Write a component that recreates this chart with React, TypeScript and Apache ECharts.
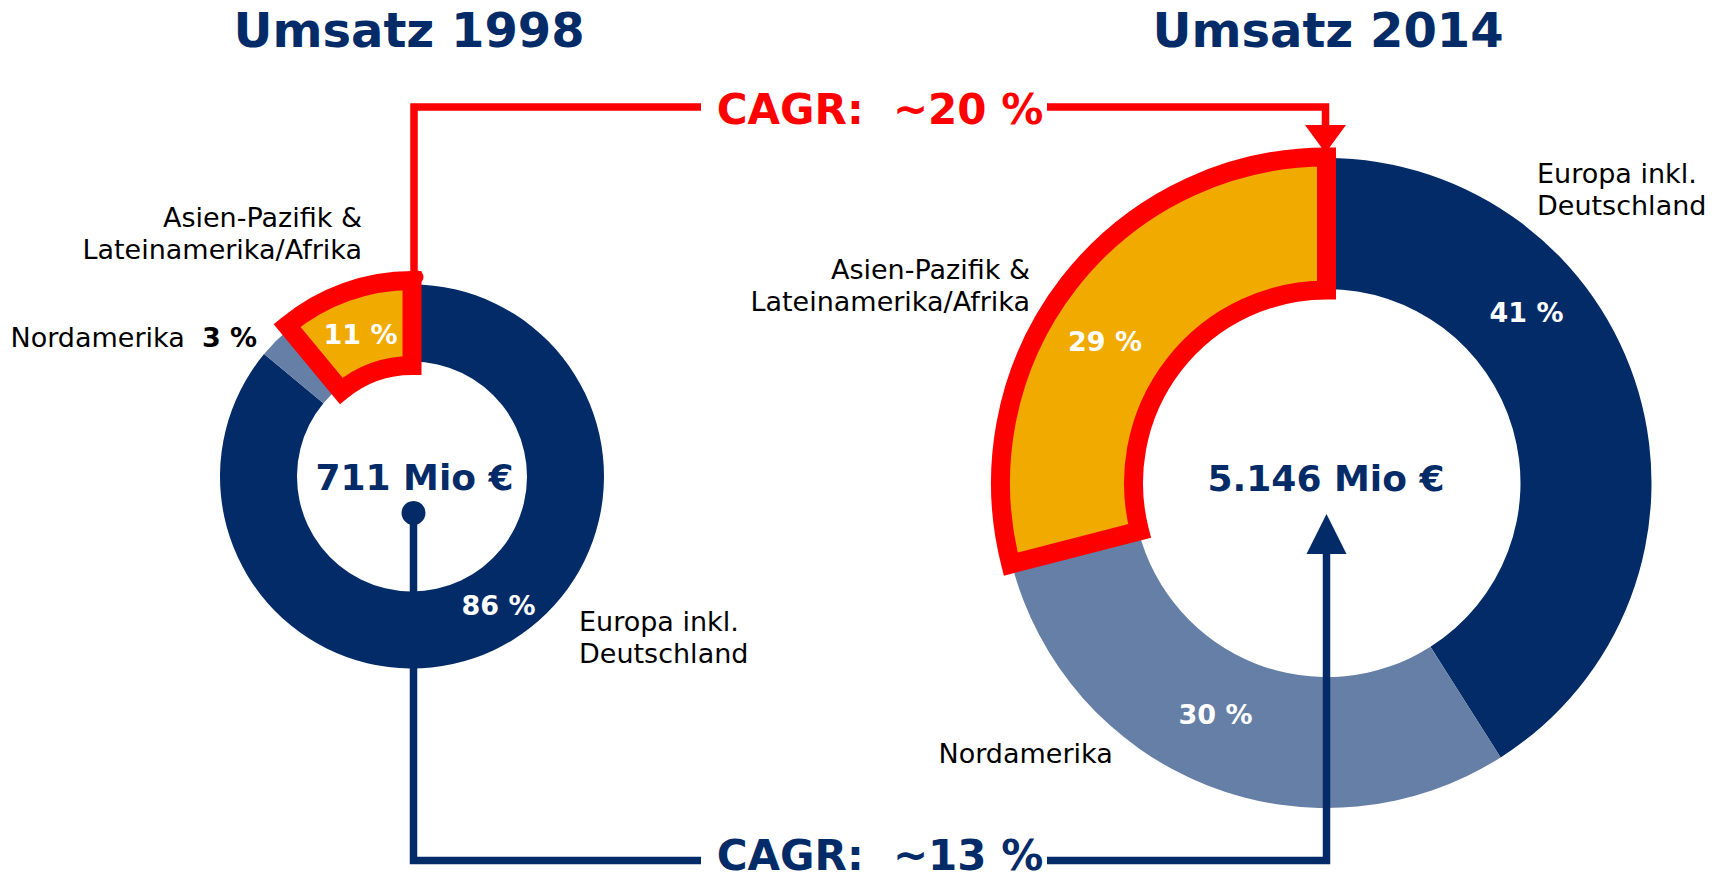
import React, { useEffect, useRef } from 'react';
import * as echarts from 'echarts';

// ---------- data ----------
const regions = ['Europa inkl. Deutschland', 'Nordamerika', 'Asien-Pazifik & Lateinamerika/Afrika'];
const regionLabels = ['Europa inkl.\nDeutschland', 'Nordamerika', 'Asien-Pazifik &\nLateinamerika/Afrika'];
const years = ['1998', '2014'];
const share1998 = [86, 3, 11];
const share2014 = [41, 30, 29];
const totals = ['711 Mio €', '5.146 Mio €'];
const cagrAsia = '~20 %';
const cagrTotal = '~13 %';
const highlighted = 'Asien-Pazifik & Lateinamerika/Afrika';

// ---------- style ----------
const FONT = 'DejaVu Sans';
const NAVY = '#022b67';
const LIGHT = '#667fa6';
const YELLOW = '#f0aa00';
const RED = '#ff0000';
const sliceColors = [NAVY, LIGHT, YELLOW];
const LABEL_SIZE = 27;

// ---------- layout ----------
const C1 = [412, 476.5];
const R1 = [115, 192];
const R1H = [111, 196];
const C2 = [1326.5, 483];
const R2 = [194, 325];
const R2H = [193, 326];
const BORDER = 19;

// label positions: key = seriesIndex-dataIndex
const LABEL_POS: Record<string, [number, number, string]> = {
  // names (main series)
  '0-0': [579, 637, 'left'],
  '0-1': [10.5, 337.7, 'left'],
  '0-2': [362, 233.7, 'right'],
  '2-0': [1537, 189.3, 'left'],
  '2-1': [938.5, 753.7, 'left'],
  '2-2': [1030, 285.3, 'right'],
  // percentages (overlay series)
  '1-0': [498.6, 605, 'center'],
  '1-2': [360.5, 334.5, 'center'],
  '3-0': [1526.5, 312, 'center'],
  '3-1': [1215.5, 714, 'center'],
  '3-2': [1105, 341, 'center'],
};

const labelLayout = (params: any) => {
  const p = LABEL_POS[`${params.seriesIndex}-${params.dataIndex}`];
  if (!p) return {};
  return { x: p[0], y: p[1], align: p[2], verticalAlign: 'middle' };
};

const pieBase = (center: number[], radius: number[], z: number) => ({
  type: 'pie',
  center,
  radius,
  startAngle: 90,
  clockwise: true,
  avoidLabelOverlap: false,
  silent: true,
  z,
  emphasis: { disabled: true },
  labelLine: { show: false },
  labelLayout,
});

const mainSeries = (values: number[], center: number[], radius: number[]) => ({
  ...pieBase(center, radius, 2),
  data: values.map((v, i) => ({ name: regions[i], value: v, itemStyle: { color: sliceColors[i] } })),
  label: {
    show: true,
    position: 'outside',
    overflow: 'none',
    color: '#000',
    fontFamily: FONT,
    fontSize: LABEL_SIZE,
    lineHeight: 32,
    formatter: (p: any) => {
      const name = regionLabels[p.dataIndex];
      return p.value < 5 ? `${name}  {b|${p.value} %}` : name;
    },
    rich: { b: { fontFamily: FONT, fontSize: LABEL_SIZE, fontWeight: 'bold', color: '#000' } },
  },
});

const overlaySeries = (values: number[], center: number[], radius: number[]) => ({
  ...pieBase(center, radius, 3),
  data: values.map((v, i) => ({
    name: regions[i],
    value: v,
    itemStyle:
      regions[i] === highlighted
        ? { color: YELLOW, borderColor: RED, borderWidth: BORDER, borderJoin: 'miter', borderMiterLimit: 10 }
        : { color: 'rgba(0,0,0,0)', borderWidth: 0 },
  })),
  label: {
    show: true,
    position: 'inside',
    overflow: 'none',
    color: '#fff',
    fontFamily: FONT,
    fontSize: LABEL_SIZE,
    fontWeight: 'bold',
    formatter: (p: any) => (p.value < 5 ? '' : `${p.value} %`),
  },
});

const text = (x: number, y: number, t: string, size: number, color: string, weight = 'bold') => ({
  type: 'text',
  x,
  y,
  z: 100,
  silent: true,
  style: {
    text: t,
    fill: color,
    fontFamily: FONT,
    fontSize: size,
    fontWeight: weight,
    align: 'center',
    verticalAlign: 'middle',
  },
});

const line = (points: number[][], color: string) => ({
  type: 'polyline',
  z: 100,
  silent: true,
  shape: { points },
  style: { stroke: color, lineWidth: 7.5, fill: 'none', lineJoin: 'miter' },
});

export default function App() {
  const ref = useRef<HTMLDivElement>(null);
  useEffect(() => {
    if (!ref.current) return;
    const chart = echarts.init(ref.current, null, { renderer: 'svg' });
    chart.setOption({
      animation: false,
      backgroundColor: '#ffffff',
      series: [
        mainSeries(share1998, C1, R1),
        overlaySeries(share1998, C1, R1H),
        mainSeries(share2014, C2, R2),
        overlaySeries(share2014, C2, R2H),
      ],
      graphic: [
        text(409, 30, `Umsatz ${years[0]}`, 48, NAVY),
        text(1328, 30, `Umsatz ${years[1]}`, 48, NAVY),
        text(414.5, 477.5, totals[0], 36, NAVY),
        text(1326, 478, totals[1], 36, NAVY),
        text(880, 109.5, `CAGR:  ${cagrAsia}`, 42, RED),
        text(880, 855, `CAGR:  ${cagrTotal}`, 42, NAVY),
        // red connector (Asia growth)
        line([[414, 277], [414, 107], [701, 107]], RED),
        line([[1047, 107], [1325.5, 107], [1325.5, 128]], RED),
        { type: 'polygon', z: 100, silent: true, shape: { points: [[1305, 125], [1346, 125], [1325.5, 153]] }, style: { fill: RED } },
        { type: 'circle', z: 100, silent: true, shape: { cx: 417, cy: 277, r: 6.5 }, style: { fill: RED } },
        // navy connector (total growth)
        { type: 'circle', z: 100, silent: true, shape: { cx: 413.5, cy: 513, r: 12 }, style: { fill: NAVY } },
        line([[413.5, 513], [413.5, 860.5], [701, 860.5]], NAVY),
        line([[1047, 860.5], [1326.5, 860.5], [1326.5, 550]], NAVY),
        { type: 'polygon', z: 100, silent: true, shape: { points: [[1306.5, 554], [1346.5, 554], [1326.5, 514]] }, style: { fill: NAVY } },
      ],
    });
    return () => chart.dispose();
  }, []);
  return (
    <div
      ref={ref}
      style={{ position: 'fixed', left: 0, top: 0, width: 1721, height: 880, background: '#fff' }}
    />
  );
}
